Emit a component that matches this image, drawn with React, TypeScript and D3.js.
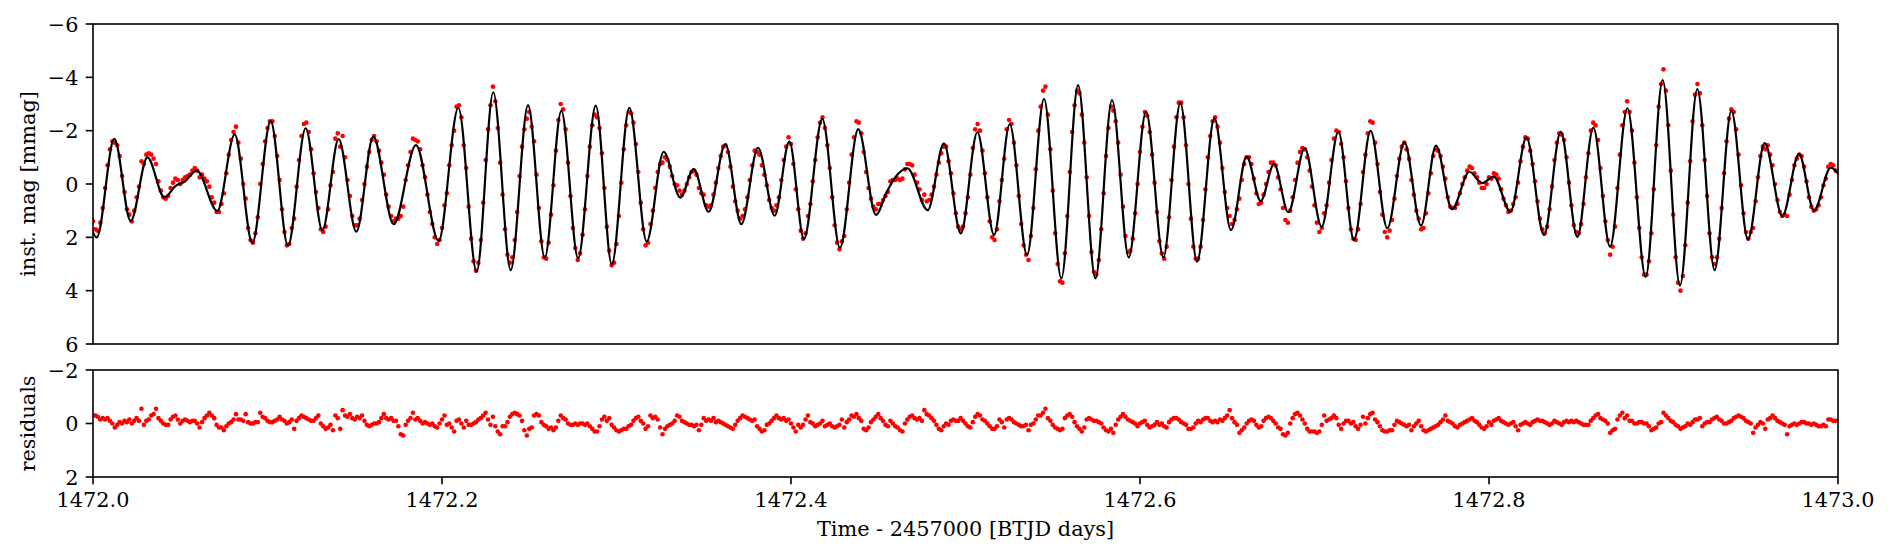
import React from "react";
import * as d3 from "d3";

// One day of 2-min cadence photometry
const startTime = 1472.0;
const cadenceMin = 2;

// Fitted multi-frequency model at every cadence (mmag)
const modelMag = [
  1.7, 2.0, 2.0, 1.6, 1.1, 0.3, -0.5, -1.2, -1.6, -1.7, -1.5, -1.0, -0.3, 0.4, 1.0, 1.3, 1.4, 1.1, 0.7, 0.2,
  -0.3, -0.8, -1.0, -1.0, -0.8, -0.6, -0.2, 0.1, 0.35, 0.5, 0.5, 0.4, 0.3, 0.2, 0.1, 0.0, 0.0, -0.05, -0.1, -0.2,
  -0.3, -0.4, -0.5, -0.5, -0.4, -0.3, 0.0, 0.2, 0.5, 0.8, 0.9, 1.0, 0.9, 0.6, 0.1, -0.5, -1.1, -1.6, -1.8, -1.8,
  -1.4, -0.8, 0.1, 0.9, 1.7, 2.1, 2.2, 1.9, 1.3, 0.4, -0.5, -1.4, -2.0, -2.3, -2.3, -1.7, -0.9, 0.1, 1.1, 1.9,
  2.3, 2.3, 1.8, 1.1, 0.2, -0.7, -1.5, -2.0, -2.1, -1.8, -1.2, -0.3, 0.5, 1.2, 1.7, 1.7, 1.4, 0.8, 0.0, -0.7,
  -1.4, -1.7, -1.6, -1.3, -0.7, 0.1, 0.8, 1.4, 1.7, 1.8, 1.5, 0.9, 0.1, -0.7, -1.3, -1.7, -1.8, -1.6, -1.2, -0.6,
  0.0, 0.6, 1.0, 1.4, 1.5, 1.4, 1.2, 0.8, 0.4, -0.2, -0.6, -1.0, -1.3, -1.5, -1.4, -1.2, -0.7, -0.2, 0.4, 1.0,
  1.5, 1.9, 2.1, 2.1, 1.8, 1.1, 0.3, -0.7, -1.6, -2.3, -2.8, -2.8, -2.5, -1.6, -0.5, 0.8, 2.0, 2.9, 3.3, 3.1,
  2.3, 1.0, -0.5, -1.9, -3.0, -3.4, -3.2, -2.4, -1.2, 0.3, 1.6, 2.7, 3.2, 3.1, 2.5, 1.4, 0.0, -1.3, -2.3, -2.9,
  -2.9, -2.3, -1.3, 0.0, 1.2, 2.2, 2.7, 2.7, 2.0, 1.0, -0.2, -1.4, -2.3, -2.7, -2.6, -1.9, -0.8, 0.4, 1.6, 2.4,
  2.8, 2.6, 1.9, 0.9, -0.3, -1.5, -2.4, -2.9, -2.8, -2.2, -1.0, 0.4, 1.7, 2.7, 3.0, 2.8, 2.0, 0.9, -0.3, -1.5,
  -2.4, -2.8, -2.7, -2.2, -1.3, -0.2, 0.8, 1.7, 2.1, 2.1, 1.8, 1.2, 0.4, -0.3, -0.9, -1.2, -1.2, -1.0, -0.7, -0.3,
  0.1, 0.35, 0.5, 0.5, 0.3, 0.0, -0.3, -0.5, -0.6, -0.4, -0.1, 0.3, 0.6, 0.9, 1.0, 0.9, 0.6, 0.0, -0.5, -1.0,
  -1.4, -1.5, -1.3, -0.8, -0.1, 0.6, 1.1, 1.5, 1.5, 1.2, 0.7, 0.0, -0.6, -1.1, -1.3, -1.3, -1.0, -0.6, 0.0, 0.6,
  1.0, 1.2, 1.1, 0.7, 0.0, -0.7, -1.3, -1.6, -1.5, -0.9, -0.1, 0.9, 1.6, 2.0, 2.0, 1.5, 0.8, -0.1, -1.0, -1.8,
  -2.3, -2.4, -2.2, -1.5, -0.6, 0.4, 1.4, 2.1, 2.4, 2.3, 1.8, 1.0, 0.1, -0.8, -1.5, -2.0, -2.1, -1.8, -1.4, -0.7,
  0.0, 0.6, 1.0, 1.2, 1.1, 0.95, 0.7, 0.4, 0.2, 0.0, -0.15, -0.25, -0.35, -0.4, -0.5, -0.55, -0.6, -0.5, -0.4, -0.15,
  0.1, 0.4, 0.7, 0.9, 1.0, 0.9, 0.6, 0.2, -0.4, -1.0, -1.4, -1.5, -1.4, -0.9, -0.3, 0.5, 1.2, 1.7, 1.9, 1.7,
  1.1, 0.4, -0.5, -1.3, -1.8, -1.9, -1.7, -1.1, -0.3, 0.5, 1.3, 1.8, 1.9, 1.6, 0.8, -0.1, -1.1, -1.9, -2.2, -2.1,
  -1.5, -0.7, 0.4, 1.4, 2.2, 2.6, 2.6, 1.9, 0.9, -0.4, -1.7, -2.6, -3.1, -3.1, -2.4, -1.2, 0.2, 1.7, 2.8, 3.4,
  3.5, 2.8, 1.5, -0.1, -1.7, -2.9, -3.6, -3.6, -2.9, -1.7, -0.1, 1.4, 2.7, 3.4, 3.5, 2.9, 1.7, 0.2, -1.3, -2.4,
  -3.1, -3.1, -2.4, -1.4, -0.1, 1.2, 2.2, 2.7, 2.6, 2.1, 1.1, -0.1, -1.2, -2.1, -2.6, -2.6, -2.1, -1.2, -0.1, 1.1,
  2.1, 2.6, 2.7, 2.2, 1.3, 0.0, -1.2, -2.3, -2.9, -3.0, -2.5, -1.5, -0.2, 1.1, 2.2, 2.8, 2.9, 2.4, 1.5, 0.4,
  -0.8, -1.7, -2.3, -2.4, -2.1, -1.4, -0.5, 0.5, 1.2, 1.7, 1.7, 1.4, 0.9, 0.2, -0.4, -0.9, -1.0, -0.9, -0.6, -0.1,
  0.3, 0.6, 0.6, 0.5, 0.2, -0.2, -0.6, -0.7, -0.7, -0.4, 0.0, 0.5, 0.9, 1.1, 1.0, 0.7, 0.2, -0.4, -0.9, -1.2,
  -1.3, -1.2, -0.8, -0.2, 0.5, 1.1, 1.5, 1.6, 1.4, 0.9, 0.1, -0.7, -1.4, -1.8, -2.0, -1.7, -1.0, 0.0, 1.0, 1.7,
  2.1, 2.0, 1.5, 0.7, -0.2, -1.1, -1.7, -2.0, -1.9, -1.4, -0.7, 0.2, 0.9, 1.5, 1.7, 1.5, 1.1, 0.5, -0.2, -0.9,
  -1.4, -1.6, -1.4, -1.0, -0.4, 0.3, 1.0, 1.4, 1.6, 1.4, 0.8, 0.1, -0.6, -1.2, -1.4, -1.3, -1.0, -0.5, 0.1, 0.6,
  0.9, 0.9, 0.8, 0.6, 0.3, 0.0, -0.2, -0.4, -0.5, -0.4, -0.3, -0.2, -0.1, 0.0, -0.05, -0.1, -0.2, -0.25, -0.3, -0.2,
  0.0, 0.3, 0.6, 0.8, 1.0, 1.0, 0.8, 0.4, -0.3, -0.9, -1.4, -1.7, -1.7, -1.3, -0.7, 0.0, 0.8, 1.4, 1.8, 1.9,
  1.6, 0.9, 0.1, -0.8, -1.5, -1.9, -1.9, -1.6, -0.9, 0.0, 0.9, 1.6, 1.9, 1.9, 1.5, 0.7, -0.3, -1.2, -1.9, -2.1,
  -1.9, -1.3, -0.4, 0.6, 1.5, 2.1, 2.3, 2.1, 1.4, 0.3, -0.8, -1.8, -2.5, -2.8, -2.6, -1.9, -0.8, 0.5, 1.7, 2.8,
  3.4, 3.4, 2.8, 1.6, 0.0, -1.6, -2.9, -3.7, -3.9, -3.2, -2.0, -0.4, 1.2, 2.7, 3.6, 3.8, 3.3, 2.2, 0.7, -0.9,
  -2.3, -3.2, -3.6, -3.2, -2.3, -0.9, 0.5, 1.9, 2.9, 3.2, 3.0, 2.2, 1.0, -0.4, -1.6, -2.4, -2.7, -2.5, -1.8, -0.8,
  0.3, 1.3, 1.9, 2.1, 1.8, 1.3, 0.5, -0.3, -1.0, -1.4, -1.5, -1.3, -0.9, -0.4, 0.2, 0.7, 1.1, 1.2, 1.1, 0.8,
  0.3, -0.2, -0.7, -1.0, -1.1, -1.0, -0.6, -0.1, 0.5, 0.8, 1.0, 0.9, 0.7, 0.4, 0.0, -0.3, -0.5, -0.6, -0.6, -0.4,
];

// Residuals, data minus model (mmag)
const residMag = [
  -0.3, -0.3, -0.25, -0.15, -0.2, -0.15, -0.2, -0.1, 0, 0.15, 0.05, -0.05, 0, -0.1, -0.05, -0.15, 0, -0.1, -0.2, -0.1,
  -0.55, 0.05, -0.1, -0.15, -0.3, -0.35, -0.55, -0.2, -0.1, 0, 0.05, 0.05, -0.15, -0.25, -0.3, -0.15, 0, -0.1, -0.15, -0.1,
  -0.05, -0.1, -0.1, 0, 0.15, -0.05, -0.2, -0.3, -0.4, -0.3, -0.2, 0.05, 0.15, 0.15, 0.25, 0.1, 0, -0.05, -0.15, -0.35,
  -0.15, -0.15, -0.1, -0.35, -0.05, 0, 0, -0.05, -0.05, -0.4, -0.25, -0.2, -0.1, -0.05, -0.05, -0.1, -0.15, -0.25, -0.15, -0.1,
  0, -0.05, -0.15, 0.2, -0.1, -0.2, -0.3, -0.25, -0.2, -0.15, -0.1, -0.1, -0.2, -0.3, 0, 0.1, 0.2, 0.15, 0.05, 0.25,
  -0.3, -0.2, 0.2, -0.5, -0.3, -0.25, -0.35, -0.2, -0.15, -0.25, -0.2, -0.3, -0.1, 0.05, 0.1, 0.05, 0, 0, -0.05, -0.2,
  -0.35, -0.2, -0.15, -0.2, -0.1, -0.1, 0.1, 0.4, 0.45, 0.05, -0.1, -0.2, -0.4, -0.15, -0.2, -0.1, 0, -0.05, 0, 0.05,
  0, 0.1, 0.15, 0, -0.15, -0.3, 0.05, 0, 0.15, 0.3, -0.1, -0.15, 0, 0.15, -0.1, 0.05, 0.05, 0, -0.05, -0.15,
  -0.2, -0.3, -0.4, -0.15, 0.05, -0.25, 0.1, 0.3, 0.4, 0.1, 0.1, -0.05, -0.25, -0.35, -0.4, -0.35, -0.3, -0.1, 0.25, 0.45,
  0.2, 0.15, -0.3, -0.35, -0.3, -0.05, 0.05, 0.1, 0.2, 0.15, 0.25, 0.15, -0.1, -0.3, -0.2, -0.15, 0, 0.05, 0.05, 0,
  0.05, 0, 0, 0.05, 0, 0.1, 0.2, 0.3, 0.3, 0.1, -0.15, -0.25, -0.1, -0.2, 0.05, 0.15, 0.25, 0.3, 0.25, 0.2,
  0.2, 0.1, 0.05, -0.1, -0.2, -0.25, -0.1, 0, 0.2, 0.1, -0.3, -0.2, -0.25, -0.15, 0.15, 0.4, 0.2, 0.1, 0.05, 0,
  -0.1, -0.3, -0.25, -0.1, -0.05, 0, 0.05, 0.05, 0.1, 0.05, 0.25, 0.05, -0.2, -0.1, -0.15, -0.1, -0.2, -0.05, -0.1, -0.05,
  0, 0.05, 0.1, 0.15, 0.2, 0.05, -0.1, -0.2, -0.3, -0.25, -0.2, -0.15, -0.1, -0.15, 0.1, 0.2, 0.3, 0.25, 0.05, 0,
  -0.1, -0.2, -0.3, -0.2, -0.15, -0.2, -0.1, -0.15, 0, 0.15, 0.3, 0.05, 0.15, 0.05, -0.15, -0.3, -0.05, 0, 0.1, 0.05,
  0, -0.1, 0.1, 0.05, 0, 0.1, 0.15, 0.1, 0.05, -0.15, 0.15, -0.05, -0.15, -0.3, -0.25, -0.35, -0.2, -0.1, 0.2, 0.25,
  0.15, -0.05, -0.15, -0.25, -0.35, -0.2, -0.1, 0.05, 0.1, -0.1, 0, 0.1, 0.15, 0.25, 0.3, 0, -0.15, -0.25, -0.3, -0.2,
  -0.15, -0.2, -0.1, -0.5, -0.35, -0.3, -0.2, -0.1, 0.05, 0.2, 0.25, 0.1, 0, 0.05, -0.1, -0.15, -0.1, -0.1, -0.2, -0.1,
  0, 0.1, 0.15, -0.05, -0.25, -0.35, -0.3, -0.15, -0.1, 0, 0.1, 0.2, 0.2, 0.1, -0.15, -0.05, 0.15, -0.15, -0.2, -0.15,
  -0.05, 0, 0.05, 0.1, 0.1, 0.05, 0.25, 0.05, 0, -0.15, -0.3, -0.3, -0.4, -0.55, -0.2, -0.1, 0.05, 0.15, 0.2, 0.25,
  0.2, -0.2, -0.3, -0.35, -0.25, -0.05, 0.1, 0.2, 0.3, 0.15, -0.15, -0.2, -0.15, -0.1, -0.1, -0.05, 0, 0.15, 0.25, 0.3,
  0.2, 0.35, 0.05, -0.15, -0.25, -0.35, -0.25, -0.15, -0.1, -0.05, 0, 0.1, 0, -0.05, -0.1, 0.05, 0.15, 0.1, 0.05, -0.05,
  0.05, 0, 0.1, 0.15, -0.05, -0.15, -0.2, -0.2, -0.15, -0.05, 0, 0.05, 0.2, 0.2, 0.15, 0, -0.1, -0.05, -0.15, -0.2,
  -0.2, -0.1, -0.05, -0.1, -0.05, -0.15, -0.1, -0.2, -0.3, -0.5, -0.2, -0.05, 0.05, 0.35, 0.25, 0.15, 0, -0.1, -0.15, -0.1,
  0.05, 0.15, 0.1, -0.1, -0.2, -0.25, -0.2, -0.1, 0, 0.15, 0.2, 0.4, 0.45, 0.35, 0, -0.2, -0.35, -0.4, -0.3, -0.15,
  0, 0.2, 0.3, 0.3, 0.3, 0.35, 0.3, 0.05, -0.3, -0.1, -0.15, -0.2, -0.3, -0.2, 0.05, 0.2, 0, -0.1, -0.1, 0,
  -0.05, 0.1, 0.2, 0.05, -0.25, 0, -0.2, -0.35, -0.4, -0.15, -0.05, 0.1, 0.25, 0.3, 0.3, 0.25, 0.25, 0.05, -0.1, -0.05,
  0, 0.05, 0.1, 0.05, 0.25, 0.1, 0, -0.1, 0.1, 0.25, 0.3, 0.25, 0.2, 0.15, 0.1, 0.05, -0.05, -0.15, -0.3, -0.1,
  -0.05, 0, 0.1, 0.15, 0.05, 0, -0.05, -0.1, -0.15, -0.2, -0.1, -0.05, 0.05, 0.15, 0.2, 0.1, -0.05, 0.05, -0.1, -0.15,
  -0.2, -0.1, -0.05, 0, 0.05, 0, -0.05, 0.1, 0.25, 0.05, 0, -0.05, 0, 0.05, -0.05, -0.1, -0.15, -0.1, -0.1, -0.05,
  0, 0.05, 0, -0.1, -0.05, 0, 0.05, -0.05, -0.1, -0.05, -0.1, -0.05, -0.1, -0.05, 0, 0.05, 0.05, 0.05, -0.1, -0.2,
  -0.3, -0.35, -0.2, -0.15, -0.1, 0, 0.35, 0.25, 0.2, -0.15, -0.3, -0.4, -0.2, -0.3, -0.1, -0.1, 0, 0, -0.05, -0.05,
  0, 0, 0.1, 0.25, 0.2, 0.15, 0, -0.05, -0.4, -0.3, -0.2, -0.1, -0.05, 0.05, 0.1, 0.2, 0.15, 0.1, 0, 0.05,
  -0.05, -0.15, -0.15, -0.2, 0.1, 0, -0.05, -0.05, -0.15, -0.2, -0.25, -0.15, -0.1, 0, 0, -0.05, -0.1, -0.2, -0.25, -0.3,
  -0.25, -0.2, -0.1, -0.05, 0, 0.35, 0.15, 0.05, -0.05, 0, 0.2, -0.15, -0.2, -0.3, -0.2, -0.1, -0.05, 0, 0.05, 0.4,
  0.1, 0.05, 0, 0.05, 0, -0.05, -0.05, 0, 0, 0.05, 0, 0.05, 0.1, 0.1, 0.05, 0.1, -0.15, -0.15, -0.1, -0.1,
];

// Turning points of the fitted model curve (minutes after start, mmag)
const fitMinutes = [
  -11, 3.1, 17.6, 31.1, 44.9, 58.9, 68, 76, 85.6, 102.6, 116.9, 131.5, 146.6, 160.9, 175.5, 189.3, 202.7, 217.3,
  231.3, 248.1, 266.5, 285.2, 301.5, 316.6, 330.3, 344.7, 359.0, 372.8, 386.5, 400.3, 414.9, 428.1, 442.6, 456.9,
  470.9, 484.7, 495.7, 508.1, 521.8, 535.0, 548.8, 562.5, 574.6, 586.7, 601.8, 616.4, 631.5, 646.1, 655, 662,
  672.0, 688.8, 702.2, 716.1, 729.8, 743.6, 756.5, 770.8, 784.8, 799.1, 812.9, 827.2, 840.9, 854.7, 869.0, 883.3,
  897.3, 911.1, 925.4, 939.1, 952.0, 963.6, 974.6, 986.4, 999.9, 1013.9, 1027.7, 1040.6, 1054.3, 1068.1, 1082.2,
  1095.9, 1108.3, 1121.5, 1135.8, 1146.3, 1155.9, 1169.7, 1182.9, 1197.4, 1211.2, 1224.9, 1238.1, 1251.9, 1266.2,
  1281.3, 1295.3, 1309.6, 1323.9, 1338.2, 1352.0, 1365.7, 1379.5, 1394.1, 1407.8, 1420.2, 1433.9, 1447,
];
const fitMag = [
  -1.0, 2.0, -1.69, 1.39, -1.0, 0.5, 0.08, -0.1, -0.5, 1.01, -1.86, 2.21, -2.36, 2.31, -2.09, 1.74, -1.68, 1.79,
  -1.78, 1.51, -1.46, 2.13, -2.86, 3.29, -3.44, 3.23, -2.96, 2.76, -2.74, 2.79, -2.94, 3.01, -2.86, 2.16,
  -1.21, 0.51, -0.56, 1.04, -1.49, 1.51, -1.36, 1.19, -1.59, 2.06, -2.44, 2.39, -2.06, 1.16, 0.3, -0.25,
  -0.59, 0.98, -1.52, 1.85, -1.94, 1.91, -2.24, 2.66, -3.19, 3.54, -3.71, 3.54, -3.15, 2.75, -2.71, 2.75,
  -3.03, 2.91, -2.46, 1.73, -1.03, 0.64, -0.75, 1.06, -1.34, 1.6, -1.96, 2.1, -1.99, 1.66, -1.56,
  1.56, -1.44, 0.94, -0.46, -0.03, -0.28, 1.04, -1.74, 1.91, -1.96, 1.98, -2.11, 2.35, -2.84,
  3.48, -3.9, 3.81, -3.56, 3.23, -2.74, 2.08, -1.53, 1.2, -1.13, 1.0, -0.61, 0.2,
];

const timeTicks = [1472.0, 1472.2, 1472.4, 1472.6, 1472.8, 1473.0];
const magTicks = [-6, -4, -2, 0, 2, 4, 6];
const residTicks = [-2, 0, 2];

const W = 1894;
const H = 560;
const plotL = 93;
const plotR = 1838;
const magTop = 24;
const magBottom = 344;
const resTop = 370;
const resBottom = 477;
const fontSize = 20.8;
const tickLen = 7.3;
const tickPad = 7.3;

const fmtTick = (v: number) => (v < 0 ? "\u2212" + Math.abs(v) : String(v));

type Pt = { t: number; mag: number };

export default function App() {
  const x = d3.scaleLinear().domain([1472, 1473]).range([plotL, plotR]);
  const yMag = d3.scaleLinear().domain([-6, 6]).range([magTop, magBottom]);
  const yRes = d3.scaleLinear().domain([-2, 2]).range([resTop, resBottom]);

  const obs = modelMag.map((m, i) => ({
    t: startTime + (i * cadenceMin) / 1440,
    flux: m + residMag[i],
    resid: residMag[i],
  }));
  const fit: Pt[] = fitMinutes.map((m, i) => ({ t: startTime + m / 1440, mag: fitMag[i] }));
  const fitLine = d3
    .line<Pt>()
    .x((d) => x(d.t))
    .y((d) => yMag(d.mag))
    .curve(d3.curveMonotoneX);

  const spine = { fill: "none", stroke: "#000", strokeWidth: 1.6 };

  return (
    <svg
      width={W}
      height={H}
      style={{ position: "absolute", left: 0, top: 0, background: "#fff" }}
      fontFamily="'DejaVu Serif', serif"
      fontSize={fontSize}
    >
      <defs>
        <clipPath id="magClip">
          <rect x={plotL} y={magTop} width={plotR - plotL} height={magBottom - magTop} />
        </clipPath>
        <clipPath id="resClip">
          <rect x={plotL} y={resTop} width={plotR - plotL} height={resBottom - resTop} />
        </clipPath>
      </defs>

      {/* light curve panel */}
      <g clipPath="url(#magClip)">
        {obs.map((d, i) => (
          <circle key={i} cx={x(d.t)} cy={yMag(d.flux)} r={2.3} fill="#ff0000" />
        ))}
        <path d={fitLine(fit) ?? ""} fill="none" stroke="#000" strokeWidth={2.2} />
      </g>
      <rect x={plotL} y={magTop} width={plotR - plotL} height={magBottom - magTop} {...spine} />
      {magTicks.map((v) => (
        <g key={v} transform={`translate(${plotL},${yMag(v)})`}>
          <line x1={-tickLen} x2={0} stroke="#000" strokeWidth={1.6} />
          <text x={-tickLen - tickPad} dy="0.36em" textAnchor="end">
            {fmtTick(v)}
          </text>
        </g>
      ))}
      <text
        transform={`translate(35,${(magTop + magBottom) / 2}) rotate(-90)`}
        textAnchor="middle"
      >
        inst. mag [mmag]
      </text>

      {/* residual panel */}
      <g clipPath="url(#resClip)">
        {obs.map((d, i) => (
          <circle key={i} cx={x(d.t)} cy={yRes(d.resid)} r={2.3} fill="#ff0000" />
        ))}
      </g>
      <rect x={plotL} y={resTop} width={plotR - plotL} height={resBottom - resTop} {...spine} />
      {residTicks.map((v) => (
        <g key={v} transform={`translate(${plotL},${yRes(v)})`}>
          <line x1={-tickLen} x2={0} stroke="#000" strokeWidth={1.6} />
          <text x={-tickLen - tickPad} dy="0.36em" textAnchor="end">
            {fmtTick(v)}
          </text>
        </g>
      ))}
      <text
        transform={`translate(35,${(resTop + resBottom) / 2}) rotate(-90)`}
        textAnchor="middle"
      >
        residuals
      </text>

      {timeTicks.map((v) => (
        <g key={v} transform={`translate(${x(v)},${resBottom})`}>
          <line y1={0} y2={tickLen} stroke="#000" strokeWidth={1.6} />
          <text y={tickLen + tickPad + 15.5} textAnchor="middle">
            {v.toFixed(1)}
          </text>
        </g>
      ))}
      <text x={(plotL + plotR) / 2} y={536} textAnchor="middle">
        Time - 2457000 [BTJD days]
      </text>
    </svg>
  );
}
